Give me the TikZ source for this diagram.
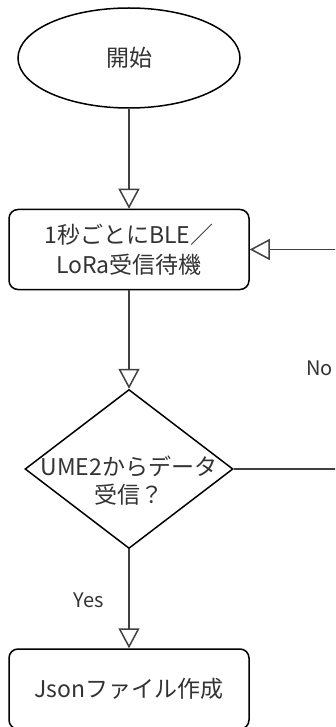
\documentclass[tikz,border=0pt]{standalone}
\usepackage{fontspec}
\setmainfont{Noto Sans CJK JP}
\usetikzlibrary{shapes.geometric,arrows.meta}
\definecolor{txt}{HTML}{333333}
\tikzset{
  shapeline/.style={draw=black, line width=1.5pt, text=txt, font=\fontsize{23}{30}\selectfont, align=center, inner sep=0pt},
  termshape/.style={shapeline, ellipse, minimum width=222pt, minimum height=100pt},
  procshape/.style={shapeline, rectangle, rounded corners=9pt, minimum width=240pt, minimum height=80pt},
  decshape/.style={shapeline, diamond, minimum width=208pt, minimum height=159pt, aspect=1.3},
  flow/.style={draw=black!75, line width=1.8pt, -{Triangle[open, length=20pt, width=21pt, line width=1.5pt]}},
  lbl/.style={text=txt, font=\fontsize{20}{24}\selectfont, inner sep=0pt}
}
\begin{document}
\begin{tikzpicture}[x=1pt, y=-1pt]
\clip (0,0) rectangle (335,727);
\fill[white] (0,0) rectangle (335,727);
\node[termshape] (start) at (129,58) {開始};
\node[procshape] (wait) at (129,249.5) {1秒ごとにBLE／\\LoRa受信待機};
\node[decshape] (dec) at (129,469) {};
\node[text=txt, font=\fontsize{23}{28}\selectfont, align=center, inner sep=0pt] (dectext) at (129,481) {UME2からデータ\\受信？};
\node[procshape] (json) at (129,689) {Jsonファイル作成};
\coordinate (c1) at (370,469);
\coordinate (c2) at (370,249.5);
\draw[flow] (start.south) -- (wait.north);
\draw[flow] (wait.south) -- (dec.north);
\draw[flow] (dec.south) -- (json.north);
\draw[flow] (dec.east) -- (c1) -- (c2) -- (wait.east);
\node[lbl] (yes) at (89,600) {Yes};
\node[lbl, anchor=west] (no) at (306,368) {No};
\end{tikzpicture}
\end{document}
